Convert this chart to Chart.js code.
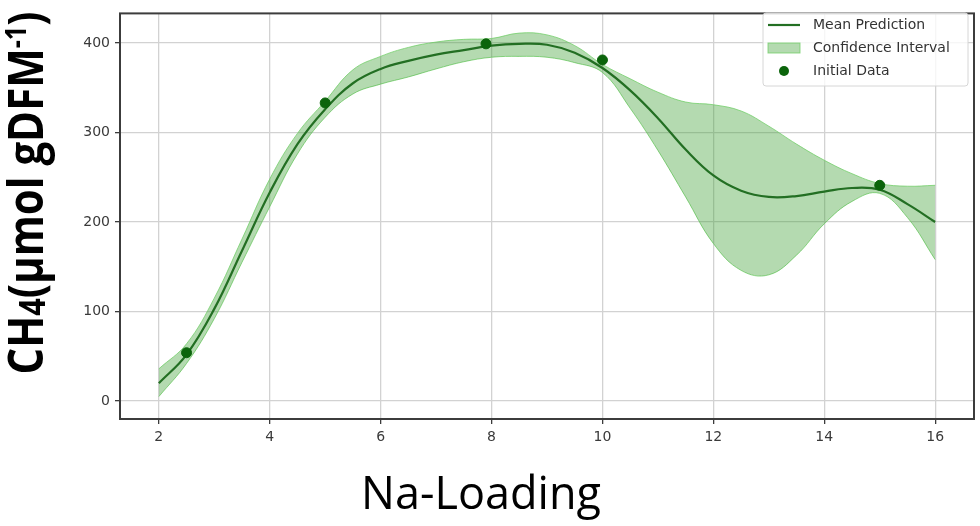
<!DOCTYPE html>
<html>
<head>
<meta charset="utf-8">
<script src="https://cdn.jsdelivr.net/npm/chart.js@4.4.1/dist/chart.umd.min.js"></script>
<style>
  html, body { margin: 0; padding: 0; background: #fff; }
  canvas { display: block; }
</style>
</head>
<body>
<canvas id="chart" width="980" height="526"></canvas>
<script>
// values
const xs = [2, 2.5, 3, 3.5, 4, 4.5, 5, 5.5, 6, 6.5, 7, 7.5, 8, 8.5, 9, 9.5, 10, 10.5, 11, 11.5, 12, 12.5, 13, 13.5, 14, 14.5, 15, 15.5, 16];
const meanPred = [20, 52, 103, 168, 233, 287, 326, 355, 371, 380, 387, 392, 397, 399, 398, 389, 372, 347, 316, 281, 252, 235, 228, 229, 234, 238, 236, 220, 200];
const ciUpper = [36, 64, 115, 181, 248, 299, 335, 370, 385, 395, 401, 404, 405, 411, 409, 397, 376, 360, 345, 334, 331, 324, 307, 287, 269, 254, 243, 240, 241];
const ciLower = [5, 42, 92, 155, 217, 276, 317, 343, 354, 362, 371, 379, 384, 385, 384, 378, 367, 327, 280, 228, 176, 146, 141, 163, 198, 223, 232, 205, 158];
const initX = [2.5, 5, 7.9, 10, 15];
const initY = [54, 333, 399, 381, 241];
const xTicks = [2, 4, 6, 8, 10, 12, 14, 16];
const yTicks = [0, 100, 200, 300, 400];
const legendLabels = ['Mean Prediction', 'Confidence Interval', 'Initial Data'];

const LINE_COLOR = '#236f23';
const DOT_COLOR = '#0b640b';
const BAND_FILL = 'rgba(60, 160, 50, 0.385)';
const BAND_EDGE = 'rgba(110, 205, 100, 0.75)';

function pts(xv, yv) {
  return xv.map((x, i) => ({ x: x, y: yv[i] }));
}

// frame, legend and axis titles
const decor = {
  id: 'decor',
  afterDraw(chart) {
    const ctx = chart.ctx;
    const a = chart.chartArea;
    ctx.save();

    // full axes box
    ctx.strokeStyle = '#3c3c3c';
    ctx.lineWidth = 2;
    ctx.strokeRect(a.left, a.top, a.right - a.left, a.bottom - a.top);

    // legend
    const lx = 763, ly = 13, lw = 205, lh = 73;
    ctx.beginPath();
    ctx.roundRect(lx, ly, lw, lh, 3);
    ctx.fillStyle = 'rgba(255,255,255,0.8)';
    ctx.fill();
    ctx.strokeStyle = '#d6d6d6';
    ctx.lineWidth = 1;
    ctx.stroke();

    const rows = [25, 48, 71];
    ctx.strokeStyle = LINE_COLOR;
    ctx.lineWidth = 2.2;
    ctx.beginPath();
    ctx.moveTo(768, rows[0]);
    ctx.lineTo(800, rows[0]);
    ctx.stroke();

    ctx.fillStyle = BAND_FILL;
    ctx.fillRect(768, rows[1] - 5, 32, 10);
    ctx.strokeStyle = BAND_EDGE;
    ctx.lineWidth = 1;
    ctx.strokeRect(768, rows[1] - 5, 32, 10);

    ctx.fillStyle = DOT_COLOR;
    ctx.beginPath();
    ctx.arc(784, rows[2], 5, 0, Math.PI * 2);
    ctx.fill();

    ctx.fillStyle = '#333';
    ctx.font = '14px "DejaVu Sans"';
    ctx.textAlign = 'left';
    ctx.textBaseline = 'middle';
    legendLabels.forEach((t, i) => ctx.fillText(t, 813, rows[i]));

    // x title
    ctx.fillStyle = '#000';
    ctx.font = '45px "Open Sans"';
    ctx.textAlign = 'center';
    ctx.textBaseline = 'alphabetic';
    ctx.fillText('Na-Loading', 481, 509);

    // y title with sub/superscripts
    const fs = 48;
    const parts = [
      { t: 'CH', s: 1, dy: 0 },
      { t: '4', s: 0.72, dy: 0.04 },
      { t: '(\u03bcmol gDFM', s: 1, dy: 0 },
      { t: '-1', s: 0.6, dy: -0.36 },
      { t: ')', s: 1, dy: 0 }
    ];
    let total = 0;
    parts.forEach(p => {
      ctx.font = 'bold ' + Math.round(fs * p.s) + 'px "Open Sans"';
      p.w = ctx.measureText(p.t).width;
      total += p.w;
    });
    const target = 363;
    const k = Math.min(1, target / total);
    ctx.translate(43, 193);
    ctx.rotate(-Math.PI / 2);
    ctx.scale(k, 1);
    ctx.textAlign = 'left';
    let cx = -total / 2;
    parts.forEach(p => {
      ctx.font = 'bold ' + Math.round(fs * p.s) + 'px "Open Sans"';
      ctx.fillText(p.t, cx, p.dy * fs);
      cx += p.w;
    });
    ctx.restore();
  }
};

const tickFont = { family: '"DejaVu Sans"', size: 14 };

new Chart(document.getElementById('chart'), {
  type: 'line',
  data: {
    datasets: [
      {
        label: 'Confidence Interval',
        data: pts(xs, ciUpper),
        fill: '+1',
        backgroundColor: BAND_FILL,
        borderColor: BAND_EDGE,
        borderWidth: 1,
        pointRadius: 0,
        tension: 0.4,
        order: 3
      },
      {
        label: 'lower',
        data: pts(xs, ciLower),
        fill: false,
        borderColor: BAND_EDGE,
        borderWidth: 1,
        pointRadius: 0,
        tension: 0.4,
        order: 4
      },
      {
        label: 'Mean Prediction',
        data: pts(xs, meanPred),
        fill: false,
        borderColor: LINE_COLOR,
        borderWidth: 2.2,
        pointRadius: 0,
        tension: 0.4,
        order: 2
      },
      {
        type: 'scatter',
        label: 'Initial Data',
        data: pts(initX, initY),
        backgroundColor: DOT_COLOR,
        borderColor: DOT_COLOR,
        pointRadius: 5,
        order: 1
      }
    ]
  },
  options: {
    responsive: false,
    animation: false,
    devicePixelRatio: 1,
    layout: { padding: { left: 0, right: 6, top: 5, bottom: 0 } },
    plugins: {
      legend: { display: false },
      tooltip: { enabled: false }
    },
    scales: {
      x: {
        type: 'linear',
        min: 1.3,
        max: 16.7,
        afterBuildTicks: s => { s.ticks = xTicks.map(v => ({ value: v })); },
        afterFit: s => { s.height = 107; },
        grid: { color: '#d2d2d2', lineWidth: 1.3, tickLength: 5, tickColor: '#3c3c3c' },
        border: { display: false },
        ticks: { font: tickFont, color: '#3a3a3a', padding: 5, maxRotation: 0 }
      },
      y: {
        type: 'linear',
        min: -20,
        max: 433,
        afterBuildTicks: s => { s.ticks = yTicks.map(v => ({ value: v })); },
        afterFit: s => { s.width = 120; },
        grid: { color: '#d2d2d2', lineWidth: 1.3, tickLength: 5, tickColor: '#3c3c3c' },
        border: { display: false },
        ticks: { font: tickFont, color: '#3a3a3a', padding: 5 }
      }
    }
  },
  plugins: [decor]
});
</script>
</body>
</html>
